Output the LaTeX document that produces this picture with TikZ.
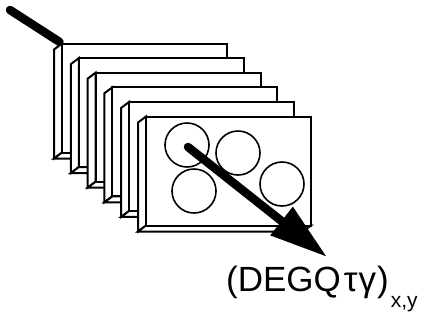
\documentclass[tikz,border=0pt]{standalone}
\usepackage{fontspec}
\setmainfont{Liberation Sans}
\usetikzlibrary{arrows.meta}

\begin{document}
\begin{tikzpicture}[x=1pt,y=-1pt,
  plate/.style={draw=black, fill=white, line width=2pt},
  well/.style={draw=black, line width=1.6pt},
  ray/.style={line width=8.5pt, line cap=round},
  lbl/.style={font=\fontsize{35}{40}\selectfont, inner sep=0pt, anchor=base west}
]
\useasboundingbox (0,0) rectangle (436,322);
\coordinate (rayin) at (10,10);
\coordinate (corner) at (62,43.5);
\draw[ray, shorten >=3pt] (rayin) -- (corner);
% stack of plates, back to front
\foreach \i in {0,...,5}{
  \pgfmathsetmacro{\px}{62+16.8*\i}
  \pgfmathsetmacro{\py}{43.5+14.6*\i}
  \draw[plate] (\px,\py) -- ++(-8,6) -- ++(0,109) -- ++(8,-6) -- cycle;
  \draw[plate] (\px,\py+109) -- ++(-8,6) -- ++(165,0) -- ++(8,-6) -- cycle;
  \draw[plate] (\px,\py) rectangle ++(165,109);
}
% wells on the front plate
\draw[well] (187,145) circle (22pt);
\draw[well] (238,153) circle (22pt);
\draw[well] (194,191) circle (22pt);
\draw[well] (282,184) circle (22pt);
\coordinate (rayout) at (188,147);
\coordinate (tip) at (327,257);
\draw[ray, -{Triangle[length=58pt, width=34pt]}] (rayout) -- (tip);
\node[lbl] (label) at (226,291) {(DEGQ\kern3ptτ\kern1ptγ\kern1pt)\kern2pt\raisebox{-16pt}{\fontsize{21}{21}\selectfont x,y}};
\end{tikzpicture}
\end{document}
